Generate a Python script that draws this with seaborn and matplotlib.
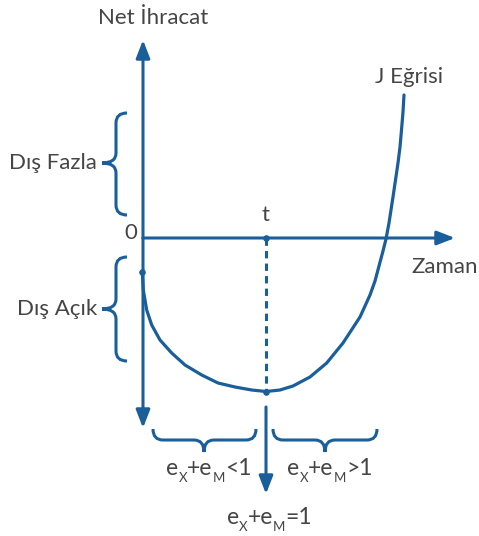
"""
J-curve diagram (Net İhracat vs Zaman)
"""
import numpy as np
import pandas as pd
import matplotlib.pyplot as plt
from matplotlib.path import Path
from matplotlib.patches import PathPatch
import seaborn as sns

sns.set_style("white")
plt.rcParams["font.family"] = ["Lato", "DejaVu Sans"]

BLUE = "#1a5f99"
GREY = "#454545"
FS = 16
SUB_FS = 9.5

# J curve (pixel space, y grows downwards)
curve_x = [142.3, 143.3, 146.7, 151.7, 160, 171.7, 185, 201.7, 218, 235, 251.7, 266,
           280, 293, 310, 326.7, 343, 360, 370, 375, 379, 383, 386, 389, 393,
           398, 400, 401.5, 403, 404]
curve_y = [272.3, 290, 310, 325, 340, 353, 365, 375, 383, 387, 390, 391.5,
           390, 386, 377, 363, 343, 317, 295, 281, 266, 251, 239, 223, 197,
           163, 147, 130, 112, 95]

# axes geometry
origin = (143, 238)
y_axis_top, y_axis_bottom = 40, 428
x_axis_right = 455
t_x = 266
t_min_y = 391.5
t_arrow = (407, 494)

# braces: (start, end, spine, tip, centre)
left_braces = [(113, 215, 116, 102, 163), (257, 361, 116, 102, 309)]
left_labels = ["Dış Fazla", "Dış Açık"]
bottom_braces = [(153, 256, 440, 452, 204), (273, 377, 440, 452, 325)]

# elasticity labels: (centre x, baseline y, relation sign)
elast_labels = [(209, 475, "<1"), (330, 475, ">1"), (269.5, 524, "=1")]


def brace_vertical(ax, y0, y1, xe, xm, xt, yc, r=10):
    verts = [(xe, y0), (xm, y0), (xm, y0 + r),
             (xm, yc - r), (xm, yc), (xt, yc),
             (xm, yc), (xm, yc + r),
             (xm, y1 - r), (xm, y1), (xe, y1)]
    codes = [Path.MOVETO, Path.CURVE3, Path.CURVE3,
             Path.LINETO, Path.CURVE3, Path.CURVE3,
             Path.CURVE3, Path.CURVE3,
             Path.LINETO, Path.CURVE3, Path.CURVE3]
    ax.add_patch(PathPatch(Path(verts, codes), fill=False, lw=2.2,
                           ec=BLUE, capstyle="butt"))


def brace_horizontal(ax, x0, x1, ye, ym, yt, xc, r=10):
    verts = [(x0, ye), (x0, ym), (x0 + r, ym),
             (xc - r, ym), (xc, ym), (xc, yt),
             (xc, ym), (xc + r, ym),
             (x1 - r, ym), (x1, ym), (x1, ye)]
    codes = [Path.MOVETO, Path.CURVE3, Path.CURVE3,
             Path.LINETO, Path.CURVE3, Path.CURVE3,
             Path.CURVE3, Path.CURVE3,
             Path.LINETO, Path.CURVE3, Path.CURVE3]
    ax.add_patch(PathPatch(Path(verts, codes), fill=False, lw=2.2,
                           ec=BLUE, capstyle="butt"))


def arrow(ax, start, end):
    ax.annotate("", xy=end, xytext=start,
                arrowprops=dict(arrowstyle="-|>,head_length=0.9,head_width=0.35",
                                color=BLUE, lw=2.2, shrinkA=0, shrinkB=0,
                                mutation_scale=12))


def sub_label(ax, renderer, xc, base, parts):
    # parts: (text, size, drop in px) written left to right, centred at xc
    texts = []
    for s, size, drop in parts:
        t = ax.text(0, base + drop, s, fontsize=size, color=GREY,
                    ha="left", va="baseline")
        texts.append(t)
    widths = [t.get_window_extent(renderer).width for t in texts]
    x = xc - sum(widths) / 2
    for t, w in zip(texts, widths):
        t.set_x(x)
        x += w


fig = plt.figure(figsize=(4.79, 5.36), dpi=100)
ax = fig.add_axes([0, 0, 1, 1])

# the J curve
df = pd.DataFrame({"x": curve_x, "y": curve_y})
sns.lineplot(data=df, x="x", y="y", sort=False, color=BLUE, lw=2.3, ax=ax)
ax.set_xlim(0, 479)
ax.set_ylim(536, 0)
ax.axis("off")

# axes arrows
arrow(ax, origin, (origin[0], y_axis_top))
arrow(ax, origin, (origin[0], y_axis_bottom))
arrow(ax, origin, (x_axis_right, origin[1]))
arrow(ax, (t_x, t_arrow[0]), (t_x, t_arrow[1]))

# dashed line at t
ax.plot([t_x, t_x], [origin[1], t_min_y], color=BLUE, lw=2.2,
        dashes=(2.4, 1.7))

# dots
ax.scatter([curve_x[0], t_x, t_x], [curve_y[0], origin[1], t_min_y],
           s=14, color=BLUE, zorder=5)

# braces and labels
for (y0, y1, xm, xt, yc), lab in zip(left_braces, left_labels):
    brace_vertical(ax, y0, y1, 127, xm, xt, yc)
    ax.text(97, yc, lab, ha="right", va="center", fontsize=FS, color=GREY)

for (x0, x1, ym, yt, xc) in bottom_braces:
    brace_horizontal(ax, x0, x1, 429, ym, yt, xc)

renderer = fig.canvas.get_renderer()
for lx, base, rel in elast_labels:
    sub_label(ax, renderer, lx, base,
              [("e", 16.5, 0), ("X", SUB_FS, 7), ("+e", 16.5, 0),
               ("M", SUB_FS, 7), (rel, 16.5, 0)])

txt = dict(fontsize=FS, color=GREY, va="center", ha="center")
ax.text(153, 18, "Net İhracat", **txt)
ax.text(409, 77, "J Eğrisi", **txt)
ax.text(445, 267, "Zaman", **txt)
ax.text(266, 215, "t", **txt)
ax.text(137, 233, "0", fontsize=FS, color=GREY, va="center", ha="right")

fig.savefig("out.png", dpi=100)
